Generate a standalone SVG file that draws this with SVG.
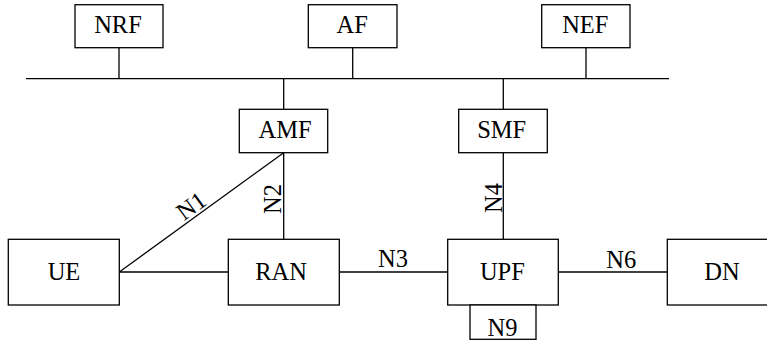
<svg xmlns="http://www.w3.org/2000/svg" width="767" height="343" viewBox="0 0 767 343">
<style>
.box{fill:#fff;stroke:#000;stroke-width:1.3}
.ln{stroke:#000;stroke-width:1.3;fill:none}
.t{font-family:'Liberation Serif','Times New Roman',serif;font-size:24.5px;fill:#000;text-anchor:middle}
</style>
<rect width="767" height="343" fill="#fff"/>
<g id="connectors">
<line class="ln" x1="26" y1="78.7" x2="669" y2="78.7"/>
<line class="ln" x1="119" y1="47.7" x2="119" y2="78.7"/>
<line class="ln" x1="352.7" y1="47.7" x2="352.7" y2="78.7"/>
<line class="ln" x1="586" y1="47.7" x2="586" y2="78.7"/>
<line class="ln" x1="283.7" y1="78.7" x2="283.7" y2="109.3"/>
<line class="ln" x1="503.3" y1="78.7" x2="503.3" y2="109.3"/>
<line class="ln" x1="119.3" y1="272" x2="283.7" y2="152.7"/>
<line class="ln" x1="283.7" y1="152.7" x2="283.7" y2="239.3"/>
<line class="ln" x1="503.3" y1="152.7" x2="503.3" y2="239.3"/>
<line class="ln" x1="119.3" y1="272" x2="228.3" y2="272"/>
<line class="ln" x1="339.3" y1="272" x2="447.7" y2="272"/>
<line class="ln" x1="558.3" y1="272" x2="667.3" y2="272"/>
<text class="t" transform="translate(196,212.5) rotate(-36)">N1</text>
<text class="t" transform="translate(280.5,199) rotate(-90)">N2</text>
<text class="t" transform="translate(501.5,198) rotate(-90)">N4</text>
<text class="t" x="393" y="267.3">N3</text>
<text class="t" x="621.3" y="268.3">N6</text>
</g>
<g id="NRF"><rect class="box" x="75" y="4.7" width="88" height="43"/><text class="t" x="118" y="33.3">NRF</text></g>
<g id="AF"><rect class="box" x="308.3" y="4.7" width="88.7" height="43"/><text class="t" x="352.2" y="33.3">AF</text></g>
<g id="NEF"><rect class="box" x="541.7" y="4.7" width="88.3" height="43"/><text class="t" x="585.3" y="33.3">NEF</text></g>
<g id="AMF"><rect class="box" x="239.3" y="109.3" width="88.4" height="43.4"/><text class="t" x="285" y="137.7">AMF</text></g>
<g id="SMF"><rect class="box" x="458.7" y="109.3" width="88.6" height="43.4"/><text class="t" x="501.7" y="137.7">SMF</text></g>
<g id="UE"><rect class="box" x="8.3" y="239.3" width="111" height="65.7"/><text class="t" x="64" y="279.5">UE</text></g>
<g id="RAN"><rect class="box" x="228.3" y="239.3" width="111" height="65.7"/><text class="t" x="281" y="279.5">RAN</text></g>
<g id="UPF"><rect class="box" x="447.7" y="239.3" width="110.6" height="65.7"/><text class="t" x="502.4" y="279.5">UPF</text></g>
<g id="N9"><rect class="box" x="470" y="305" width="66" height="34.3"/><text class="t" x="502.5" y="335.7">N9</text></g>
<g id="DN"><rect class="box" x="667.3" y="239.3" width="111" height="65.7"/><text class="t" x="722" y="279.5">DN</text></g>
</svg>
